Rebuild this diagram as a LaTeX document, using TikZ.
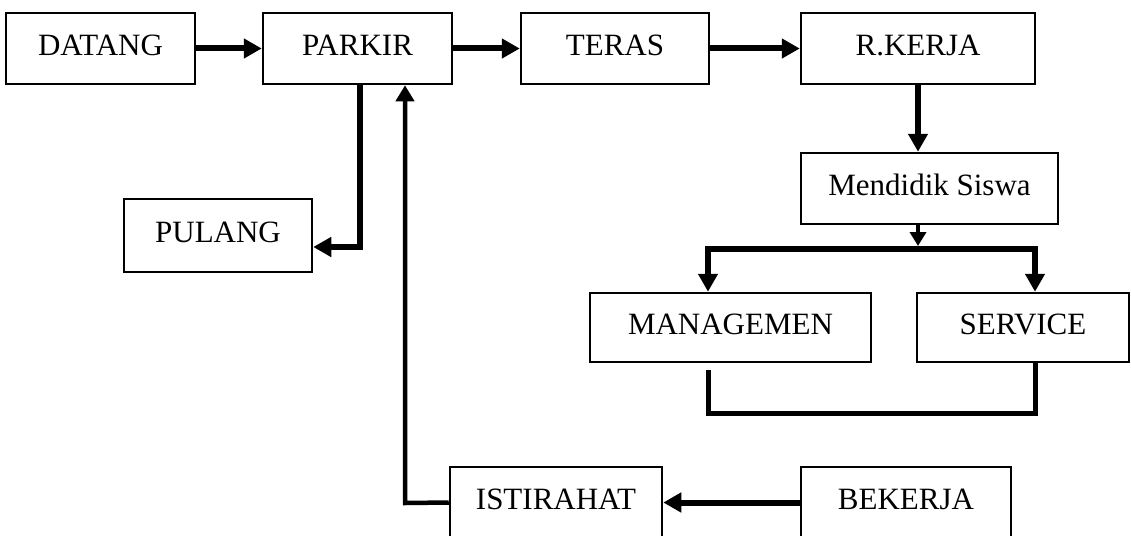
\documentclass[tikz,border=0pt]{standalone}
\usepackage{fontspec}
\setmainfont{Liberation Serif}
\usetikzlibrary{arrows.meta}
\begin{document}
\begin{tikzpicture}[x=1pt,y=-1pt,
  box/.style={draw, line width=2.5pt, inner sep=0pt, minimum height=71pt,
    text height=20.5pt, text depth=7pt, font=\fontsize{31}{37}\selectfont},
  tip/.style={-{Triangle[length=18pt,width=19pt]}},
  flow/.style={line width=6pt, tip},
  midflow/.style={line width=4.5pt, -{Triangle[length=16pt,width=18pt]}},
  thinflow/.style={line width=3.5pt, -{Triangle[length=14pt,width=16pt]}},
  loopline/.style={line width=5pt}]
\useasboundingbox (0,0) rectangle (1131,535);
\clip (0,0) rectangle (1131,535);

% main row
\node[box, minimum width=189pt] (datang) at (100.5,48.5) {DATANG};
\node[box, minimum width=189pt] (parkir) at (357.5,48.5) {PARKIR};
\node[box, minimum width=188pt] (teras)  at (615,48.5)   {TERAS};
\node[box, minimum width=234pt] (rkerja) at (918,48.5)   {R.KERJA};

% work branch
\node[box, minimum width=257pt] (didik)  at (929.5,188.5) {Mendidik Siswa};
\node[box, minimum width=281pt, minimum height=69pt] (manage) at (730.5,327.5) {MANAGEMEN};
\node[box, minimum width=212pt, minimum height=69pt] (service) at (1023,327.5) {SERVICE};

% side boxes
\node[box, minimum width=188pt, minimum height=73pt] (pulang) at (218,235.5) {PULANG};
\node[box, minimum width=212pt] (istirahat) at (556,502.5) {ISTIRAHAT};
\node[box, minimum width=210pt] (bekerja)   at (906,502.5) {BEKERJA};

% helper points for the routed connectors
\coordinate (split) at (918,246);
\coordinate (bl) at (708,249);
\coordinate (br) at (1035,249);
\coordinate (gap) at (708,370);
\coordinate (loopl) at (708,413);
\coordinate (loopr) at (1035,413);
\coordinate (pk) at (360,247);
\coordinate (up) at (405,503);

% arrows along the top row
\draw[flow] (datang.east) -- (parkir.west);
\draw[flow] (parkir.east) -- (teras.west);
\draw[flow] (teras.east) -- (rkerja.west);
\draw[flow] (rkerja.south) -- (rkerja.south |- didik.north);

% split into the two tasks
\draw[thinflow] (split |- didik.south) -- (split);
\draw[line width=6pt, {Triangle[length=18pt,width=19pt]}-{Triangle[length=18pt,width=19pt]}]
  (bl |- manage.north) -- (bl) -- (br) -- (br |- service.north);

% joining line under the tasks
\draw[loopline] (gap) -- (loopl) -- (loopr) -- (br |- service.south);

% leaving from the parking area
\draw[flow] (pk |- parkir.south) -- (pk) -- (pk -| pulang.east);

% break back to the parking area
\draw[flow] (bekerja.west) -- (istirahat.east);
\draw[midflow] (istirahat.west) -- (up) -- (up |- parkir.south);
\end{tikzpicture}
\end{document}
